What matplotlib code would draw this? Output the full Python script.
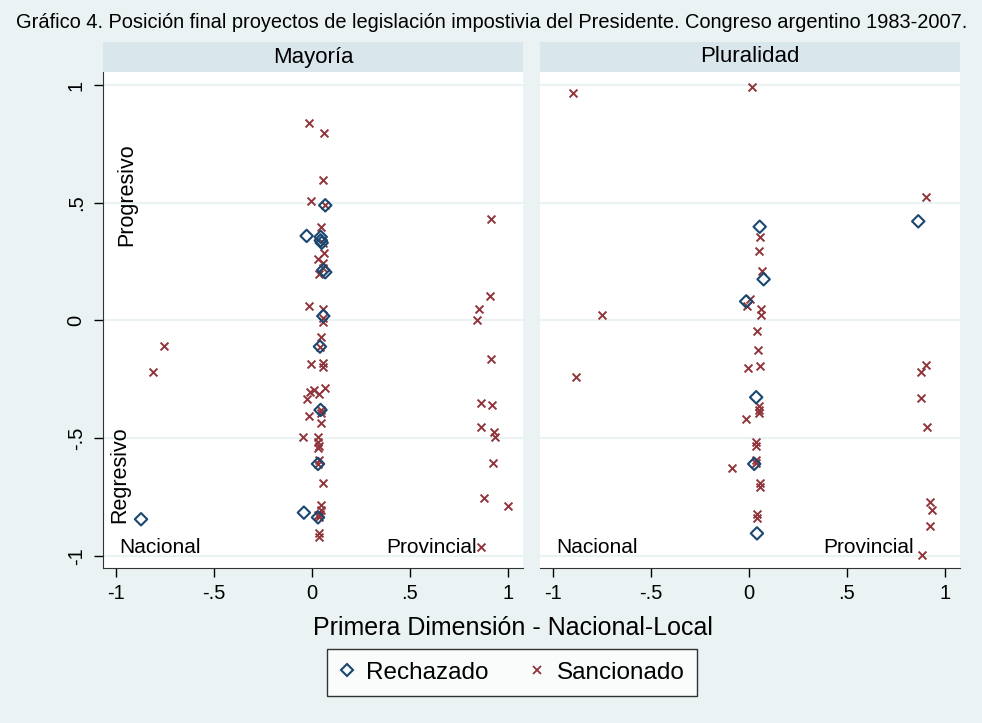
import matplotlib
matplotlib.use("Agg")
import matplotlib.pyplot as plt
from matplotlib.lines import Line2D

plt.rcParams['font.family'] = ['Liberation Sans', 'DejaVu Sans']

# Mayoría panel
may_rech_x = [-0.872, 0.068, -0.027, 0.045, 0.045, 0.05, 0.058, 0.068, 0.058, 0.041, 0.044, 0.031, -0.041, 0.031]
may_rech_y = [-0.844, 0.489, 0.359, 0.355, 0.34, 0.33, 0.214, 0.205, 0.019, -0.111, -0.380, -0.609, -0.816, -0.836]
may_sanc_x = [-0.755, -0.813,
              0.912, 0.910, 0.850, 0.840, 0.912, 0.861, 0.920, 0.864, 0.93, 0.935, 0.925, 0.876, 1.002, 0.864,
              -0.014, 0.061, 0.055, -0.004, 0.068, 0.047, 0.055, 0.061, 0.031, 0.058, 0.037, 0.058, -0.014,
              0.055, 0.058, 0.055, 0.044, 0.041, -0.004, 0.055, 0.055, 0.068, 0.010, -0.010, 0.034, -0.024,
              0.044, 0.047, -0.017, 0.047, -0.044, 0.03, 0.03, 0.034, 0.03, 0.031, 0.037, 0.055, 0.047, 0.047,
              0.041, 0.037, 0.031, 0.037, 0.037]
may_sanc_y = [-0.108, -0.219,
              0.43, 0.104, 0.048, 0.002, -0.162, -0.352, -0.360, -0.451, -0.475, -0.495, -0.604, -0.754, -0.788, -0.963,
              0.84, 0.797, 0.597, 0.509, 0.489, 0.398, 0.33, 0.285, 0.262, 0.243, 0.197, 0.222, 0.062,
              0.047, 0.01, -0.005, -0.069, -0.111, -0.185, -0.179, -0.199, -0.287, -0.295, -0.304, -0.312, -0.335,
              -0.380, -0.394, -0.405, -0.437, -0.493, -0.496, -0.516, -0.533, -0.54, -0.609, -0.592, -0.689, -0.785, -0.805,
              -0.82, -0.836, -0.827, -0.904, -0.918]

# Pluralidad panel
plu_rech_x = [0.055, 0.075, -0.014, 0.037, 0.027, 0.041, 0.864]
plu_rech_y = [0.398, 0.175, 0.081, -0.326, -0.609, -0.904, 0.421]
plu_sanc_x = [-0.898, -0.748, -0.884, 0.014, 0.055, 0.051, 0.065, 0.003, -0.01, 0.061, 0.061, 0.041, 0.044,
              -0.007, 0.055, 0.05, 0.051, 0.051, -0.017, 0.034, 0.034, 0.034, 0.034, -0.088, 0.058, 0.058,
              0.041, 0.041, 0.901, 0.905, 0.878, 0.878, 0.908, 0.922, 0.932, 0.925, 0.881]
plu_sanc_y = [0.965, 0.025, -0.241, 0.99, 0.356, 0.296, 0.209, 0.093, 0.062, 0.048, 0.025, -0.046, -0.125,
              -0.202, -0.193, -0.363, -0.38, -0.393, -0.42, -0.516, -0.533, -0.592, -0.605, -0.626, -0.691, -0.707,
              -0.822, -0.839, 0.523, -0.190, -0.219, -0.329, -0.454, -0.771, -0.805, -0.873, -0.997]

ticks = [-1, -0.5, 0, 0.5, 1]
tick_labels = ['-1', '-.5', '0', '.5', '1']

bg = '#eaf2f3'
strip_col = '#d9e6eb'
grid_col = '#eaf2f3'
navy = '#1a476f'
maroon = '#90353b'

W, H = 982, 723
fig = plt.figure(figsize=(W / 100, H / 100), dpi=100, facecolor=bg)

fig.text(16 / W, 1 - 23 / H, 'Gráfico 4. Posición final proyectos de legislación impostivia del Presidente. Congreso argentino 1983-2007.',
         ha='left', va='center', fontsize=14.45)

panels = [
    ('Mayoría', 103, may_rech_x, may_rech_y, may_sanc_x, may_sanc_y),
    ('Pluralidad', 540, plu_rech_x, plu_rech_y, plu_sanc_x, plu_sanc_y),
]

for i, (name, px, rx, ry, sx, sy) in enumerate(panels):
    ax = fig.add_axes([px / W, (H - 568) / H, 420 / W, 496 / H])
    ax.set_facecolor('white')
    ax.set_xlim(-1.066, 1.077)
    ax.set_ylim(-1.051, 1.055)
    for t in ticks:
        ax.axhline(t, color=grid_col, lw=1.5, zorder=0)
    ax.scatter(sx, sy, marker='x', s=32, color=maroon, linewidths=1.4, zorder=3)
    ax.scatter(rx, ry, marker='D', s=40, facecolors='none', edgecolors=navy, linewidths=1.5, zorder=3)

    ax.set_xticks(ticks)
    ax.set_xticklabels(tick_labels, fontsize=14.5)
    ax.tick_params(axis='x', length=6.5, width=1, pad=5)
    for s in ['top', 'right']:
        ax.spines[s].set_visible(False)
    ax.spines['bottom'].set_color('#333333')
    if i == 0:
        ax.set_yticks(ticks)
        ax.set_yticklabels(tick_labels, fontsize=14.5, rotation=90, va='center')
        ax.tick_params(axis='y', length=6.5, width=1, pad=6)
        ax.spines['left'].set_color('#333333')
        ax.text(-0.944, 0.533, 'Progresivo', rotation=90, ha='center', va='center', fontsize=15.5)
        ax.text(-0.98, -0.656, 'Regresivo', rotation=90, ha='center', va='center', fontsize=15.5)
    else:
        ax.set_yticks([])
        ax.spines['left'].set_visible(False)
    ax.text(-0.985, -0.987, 'Nacional', ha='left', va='baseline', fontsize=15)
    ax.text(0.381, -0.987, 'Provincial', ha='left', va='baseline', fontsize=15)

    sax = fig.add_axes([px / W, (H - 72) / H, 420 / W, 30 / H])
    sax.set_facecolor(strip_col)
    sax.set_xticks([])
    sax.set_yticks([])
    for s in sax.spines.values():
        s.set_visible(False)
    sax.text(0.5, 0.5, name, ha='center', va='center', fontsize=16, transform=sax.transAxes)

fig.text(513 / W, 1 - 628 / H, 'Primera Dimensión - Nacional-Local', ha='center', va='center', fontsize=18)

handles = [
    Line2D([], [], marker='D', linestyle='none', markerfacecolor='none', markeredgecolor=navy,
           markeredgewidth=1.5, markersize=6, label='Rechazado'),
    Line2D([], [], marker='x', linestyle='none', color=maroon, markeredgewidth=1.3,
           markersize=6, label='Sancionado'),
]
leg = fig.legend(handles=handles, loc='center', bbox_to_anchor=(512 / W, 1 - 672.5 / H), ncol=2,
                 fontsize=17.5, frameon=True, fancybox=False, edgecolor='black', handletextpad=0.5,
                 handlelength=0.6, columnspacing=1.7, borderpad=0.5, borderaxespad=0.3)
leg.get_frame().set_linewidth(1.0)

fig.savefig('out.png', dpi=100, facecolor=bg)
